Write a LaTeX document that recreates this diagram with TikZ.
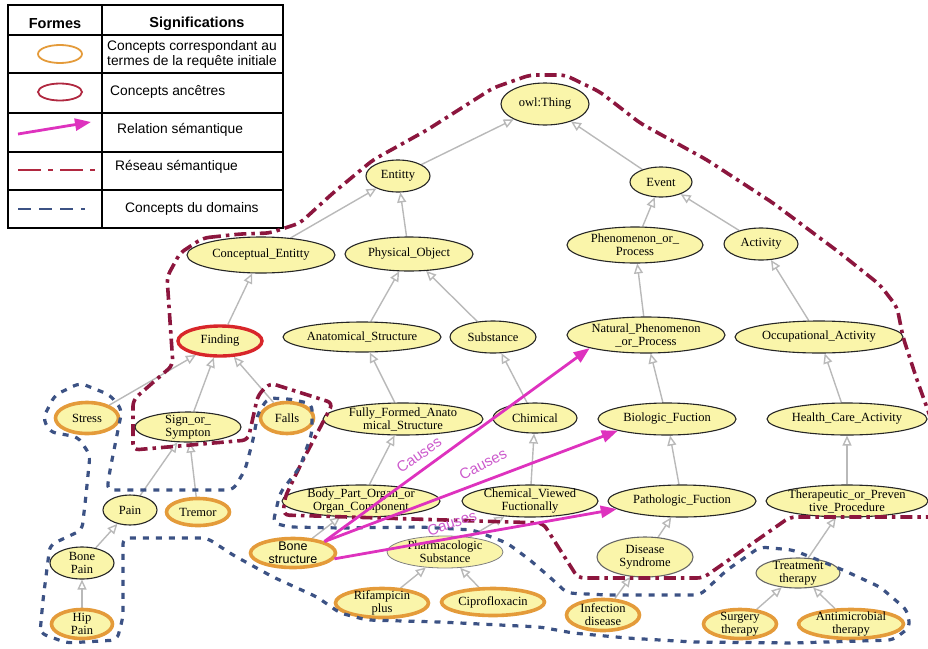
\documentclass[tikz,border=0pt]{standalone}
\usepackage{fontspec}
\setmainfont{Liberation Serif}
\newfontfamily\sansf{Liberation Sans}
\usetikzlibrary{shapes.geometric,arrows.meta}
\pgfdeclarelayer{background}
\pgfsetlayers{background,main}
\definecolor{nfill}{RGB}{250,245,170}
\definecolor{qorange}{RGB}{228,155,58}
\definecolor{ared}{RGB}{216,38,42}
\definecolor{lred}{RGB}{176,40,64}
\definecolor{netred}{RGB}{140,22,62}
\definecolor{dblue}{RGB}{60,82,132}
\definecolor{rmag}{RGB}{222,50,190}
\definecolor{cmag}{RGB}{204,90,204}
\definecolor{egray}{RGB}{185,185,185}
\begin{document}
\begin{tikzpicture}[x=1pt,y=-1pt,
 cn/.style={ellipse, draw=black!85, line width=1.1pt, fill=nfill, inner sep=-40pt, align=center, font=\fontsize{12.5}{13}\selectfont},
 qn/.style={cn, draw=qorange, line width=3.6pt},
 an/.style={cn, draw=ared, line width=3.4pt},
 isa/.style={draw=egray, line width=1.4pt, -{Triangle[open,length=10pt,width=9pt]}},
 rel/.style={draw=rmag, line width=2.8pt, -{Triangle[length=16pt,width=12pt]}},
 causes/.style={text=cmag, font=\sansf\fontsize{15}{15}\selectfont, inner sep=0pt},
 netline/.style={draw=netred, line width=3.6pt, dash pattern=on 12pt off 5pt on 3.5pt off 5pt, rounded corners=6pt},
 domline/.style={draw=dblue, line width=3.2pt, dash pattern=on 6pt off 7pt, rounded corners=6pt},
 lt/.style={font=\sansf\fontsize{13.8}{15}\selectfont, inner sep=0pt},
 lh/.style={font=\sansf\bfseries\fontsize{14.5}{15}\selectfont, inner sep=0pt},
 tab/.style={draw=black, line width=1.5pt}
]
\useasboundingbox (0,0) rectangle (928,648);

% ---------- legend ----------
\draw[tab] (8,5) rectangle (283,228);
\draw[tab] (102,5) -- (102,228);
\foreach \yy in {35,73,113,152,190} \draw[tab] (8,\yy) -- (283,\yy);
\node[lh] (hf) at (55,24) {Formes};
\node[lh] (hs) at (197,24) {Significations};
\node[ellipse, draw=qorange, line width=1.8pt, minimum width=44pt, minimum height=18pt, inner sep=0pt] (l1) at (60,54) {};
\node[lt, align=center] (t1) at (192,54) {Concepts correspondant au\\termes de la requête initiale};
\node[ellipse, draw=lred, line width=1.8pt, minimum width=44pt, minimum height=17pt, inner sep=0pt] (l2) at (60,92) {};
\node[lt, anchor=west] (t2) at (110,92) {Concepts ancêtres};
\coordinate (l3a) at (18,134);
\coordinate (l3b) at (91,122);
\draw[rel] (l3a) -- (l3b);
\node[lt, anchor=west] (t3) at (117,130) {Relation sémantique};
\coordinate (l4a) at (18,170);
\coordinate (l4b) at (95,170);
\draw[draw=lred, line width=2pt, dash pattern=on 23pt off 7pt on 5pt off 7pt] (l4a) -- (l4b);
\node[lt, anchor=west] (t4) at (115,167) {Réseau sémantique};
\coordinate (l5a) at (18,209);
\coordinate (l5b) at (85,209);
\draw[draw=dblue, line width=2pt, dash pattern=on 13pt off 8pt] (l5a) -- (l5b);
\node[lt, anchor=west] (t5) at (125,209) {Concepts du domains};

% ---------- nodes ----------
\node[cn, minimum width=88pt, minimum height=42pt] (thing) at (545,104) {owl:Thing};
\node[cn, minimum width=64pt, minimum height=32pt] (ent) at (398,176) {Entitty};
\node[cn, minimum width=62pt, minimum height=30pt] (evt) at (661,182) {Event};
\node[cn, minimum width=148pt, minimum height=36pt] (ce) at (261,255) {Conceptual\_Entitty};
\node[cn, minimum width=128pt, minimum height=34pt] (po) at (409,254) {Physical\_Object};
\node[cn, minimum width=136pt, minimum height=36pt] (pp) at (635,245) {Phenomenon\_or\_\\Process};
\node[cn, minimum width=74pt, minimum height=32pt] (act) at (761,244) {Activity};
\node[an, minimum width=84pt, minimum height=30pt] (fin) at (220,341) {Finding};
\node[cn, minimum width=158pt, minimum height=30pt] (as) at (362,337) {Anatomical\_Structure};
\node[cn, minimum width=86pt, minimum height=32pt] (sub) at (493,337) {Substance};
\node[cn, minimum width=158pt, minimum height=36pt] (npp) at (646,335) {Natural\_Phenomenon\\\_or\_Process};
\node[cn, minimum width=168pt, minimum height=32pt] (occ) at (819,337) {Occupational\_Activity};
\node[qn, minimum width=63pt, minimum height=31pt] (str) at (87,418) {Stress};
\node[cn, minimum width=106pt, minimum height=30pt] (sos) at (188,427) {Sign\_or\_\\Sympton};
\node[qn, minimum width=53pt, minimum height=31pt] (fal) at (287,418) {Falls};
\node[cn, minimum width=160pt, minimum height=32pt] (ffa) at (403,419) {Fully\_Formed\_Anato\\mical\_Structure};
\node[cn, minimum width=84pt, minimum height=30pt] (chi) at (535,418) {Chimical};
\node[cn, minimum width=138pt, minimum height=32pt] (bio) at (667,419) {Biologic\_Fuction};
\node[cn, minimum width=160pt, minimum height=32pt] (hca) at (847,419) {Health\_Care\_Activity};
\node[cn, minimum width=54pt, minimum height=30pt] (pain) at (130,510) {Pain};
\node[qn, minimum width=63pt, minimum height=27pt] (tre) at (198,512) {Tremor};
\node[cn, minimum width=158pt, minimum height=32pt] (bpo) at (361,501) {Body\_Part\_Organ\_or\\Organ\_Component};
\node[cn, minimum width=136pt, minimum height=32pt] (cvf) at (530,501) {Chemical\_Viewed\\Fuctionally};
\node[cn, minimum width=148pt, minimum height=32pt] (pat) at (682,501) {Pathologic\_Fuction};
\node[cn, minimum width=162pt, minimum height=32pt] (tpp) at (847,501) {Therapeutic\_or\_Preven\\tive\_Procedure};
\node[cn, minimum width=64pt, minimum height=32pt] (bp) at (82,563) {Bone\\Pain};
\node[qn, minimum width=85pt, minimum height=29pt, font=\sansf\fontsize{12.5}{13}\selectfont] (bs) at (293,553) {Bone\\structure};
\node[cn, draw=black!50, line width=0.8pt, minimum width=116pt, minimum height=32pt] (phs) at (445,552) {Pharmacologic\\Substance};
\node[cn, draw=black!60, minimum width=96pt, minimum height=40pt] (ds) at (645,557) {Disease\\Syndrome};
\node[cn, draw=black!60, minimum width=84pt, minimum height=30pt] (tt) at (798,573) {Treatment\\therapy};
\node[qn, minimum width=61pt, minimum height=29pt] (hp) at (82,624) {Hip\\Pain};
\node[qn, minimum width=93pt, minimum height=29pt] (rif) at (382,603) {Rifampicin\\plus};
\node[qn, minimum width=103pt, minimum height=27pt] (cip) at (493,602) {Ciprofloxacin};
\node[qn, minimum width=73pt, minimum height=31pt] (inf) at (603,615) {Infection\\disease};
\node[qn, minimum width=73pt, minimum height=29pt] (sur) at (740,624) {Surgery\\therapy};
\node[qn, minimum width=105pt, minimum height=29pt] (ant) at (851,624) {Antimicrobial\\therapy};

% ---------- is-a edges ----------
\begin{pgfonlayer}{background}
\draw[isa] (ent) -- (thing);
\draw[isa] (evt) -- (thing);
\draw[isa] (ce) -- (ent);
\draw[isa] (po) -- (ent);
\draw[isa] (pp) -- (evt);
\draw[isa] (act) -- (evt);
\draw[isa] (fin) -- (ce);
\draw[isa] (as) -- (po);
\draw[isa] (sub) -- (po);
\draw[isa] (npp) -- (pp);
\draw[isa] (occ) -- (act);
\draw[isa] (str) -- (fin);
\draw[isa] (sos) -- (fin);
\draw[isa] (fal) -- (fin);
\draw[isa] (ffa) -- (as);
\draw[isa] (chi) -- (sub);
\draw[isa] (bio) -- (npp);
\draw[isa] (hca) -- (occ);
\draw[isa] (pain) -- (sos);
\draw[isa] (tre) -- (sos);
\draw[isa] (bpo) -- (ffa);
\draw[isa] (cvf) -- (chi);
\draw[isa] (pat) -- (bio);
\draw[isa] (tpp) -- (hca);
\draw[isa] (bp) -- (pain);
\draw[isa] (hp) -- (bp);
\draw[isa] (bs) -- (bpo);
\draw[isa] (phs) -- (cvf);
\draw[isa] (rif) -- (phs);
\draw[isa] (cip) -- (phs);
\draw[isa] (ds) -- (pat);
\draw[isa] (inf) -- (ds);
\draw[isa] (tt) -- (tpp);
\draw[isa] (sur) -- (tt);
\draw[isa] (ant) -- (tt);
\end{pgfonlayer}

% ---------- semantic network outline ----------
\draw[netline] (203,238) -- (240,234) -- (270,233) -- (300,223) -- (333,193) -- (373,160) -- (427,130) -- (493,88) -- (530,75) -- (565,75) -- (600,92) -- (640,123) -- (707,160) -- (773,203) -- (840,253) -- (880,285) -- (897,307) -- (903,337) -- (917,380) -- (935,430) -- (935,517) -- (790,517) -- (703,578) -- (578,578) -- (543,523) -- (283,515) -- (285,497) -- (303,460) -- (333,403) -- (270,383) -- (258,395) -- (248,440) -- (133,450) -- (133,400) -- (173,365) -- (167,277) -- (180,253) -- cycle;

% ---------- domain concepts outline ----------
\draw[domline] (40,633) -- (43,600) -- (50,545) -- (82,530) -- (86,495) -- (90,455) -- (78,437) -- (50,432) -- (43,418) -- (55,395) -- (80,383) -- (110,395) -- (122,410) -- (117,435) -- (110,470) -- (107,490) -- (233,490) -- (245,470) -- (253,440) -- (258,413) -- (268,398) -- (290,399) -- (312,404) -- (312,433) -- (300,467) -- (280,493) -- (273,523) -- (290,527) -- (340,528) -- (420,527) -- (473,530) -- (507,543) -- (530,560) -- (553,580) -- (567,593) -- (607,595) -- (700,595) -- (727,570) -- (760,547) -- (793,550) -- (843,570) -- (880,587) -- (907,610) -- (910,627) -- (893,640) -- (793,643) -- (693,642) -- (627,638) -- (573,633) -- (540,627) -- (440,622) -- (367,620) -- (340,613) -- (317,597) -- (273,577) -- (233,555) -- (207,538) -- (123,538) -- (123,617) -- (117,640) -- (67,643) -- cycle;

% ---------- semantic relations ----------
\draw[rel] (bs.north east) -- (npp.south west);
\draw[rel] (bs.20) -- (bio.south west);
\draw[rel] (bs.-8) -- (pat.187);
\node[causes, rotate=35] (c1) at (419,455) {Causes};
\node[causes, rotate=27] (c2) at (483,464) {Causes};
\node[causes, rotate=19] (c3) at (452,523) {Causes};
\end{tikzpicture}
\end{document}
